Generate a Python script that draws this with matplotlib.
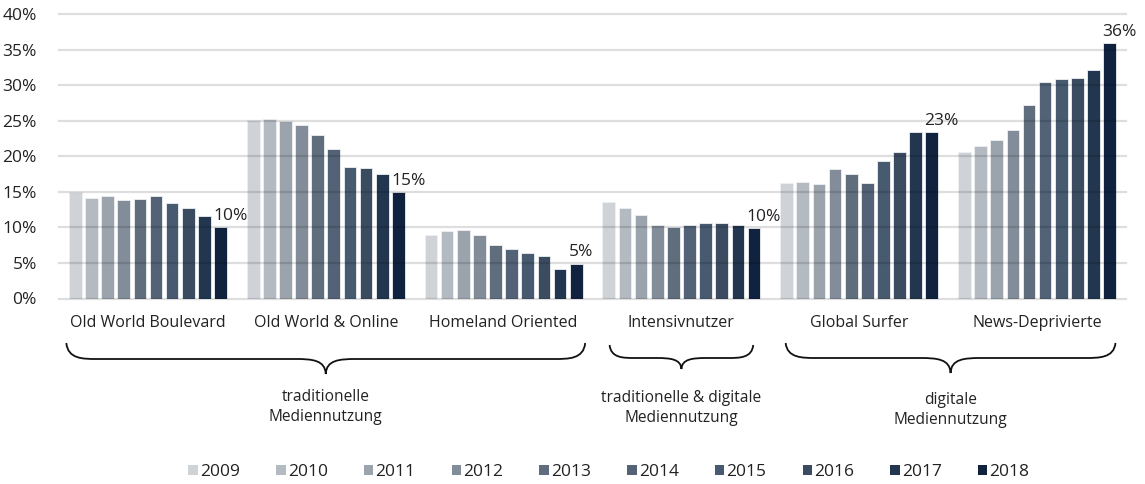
import matplotlib
matplotlib.use("Agg")
import matplotlib.pyplot as plt
from matplotlib.path import Path
from matplotlib.patches import PathPatch, Patch
from matplotlib.transforms import blended_transform_factory
import numpy as np

plt.rcParams['font.family'] = ['Open Sans', 'DejaVu Sans']

categories = ["Old World Boulevard", "Old World & Online", "Homeland Oriented",
              "Intensivnutzer", "Global Surfer", "News-Deprivierte"]
years = ["2009", "2010", "2011", "2012", "2013", "2014", "2015", "2016", "2017", "2018"]
values = {
    "Old World Boulevard": [15.0, 14.2, 14.4, 13.8, 14.0, 14.4, 13.4, 12.7, 11.6, 10.0],
    "Old World & Online":  [25.1, 25.2, 25.0, 24.4, 23.0, 21.0, 18.5, 18.4, 17.5, 15.0],
    "Homeland Oriented":   [8.9, 9.5, 9.7, 8.9, 7.5, 6.9, 6.4, 6.0, 4.2, 4.9],
    "Intensivnutzer":      [13.6, 12.7, 11.8, 10.3, 10.0, 10.3, 10.6, 10.6, 10.3, 9.9],
    "Global Surfer":       [16.2, 16.4, 16.1, 18.2, 17.5, 16.2, 19.4, 20.6, 23.4, 23.4],
    "News-Deprivierte":    [20.6, 21.4, 22.3, 23.7, 27.2, 30.5, 30.9, 31.0, 32.1, 35.9],
}
end_labels = ["10%", "15%", "5%", "10%", "23%", "36%"]
group_names = ["traditionelle\nMediennutzung", "traditionelle & digitale\nMediennutzung",
               "digitale\nMediennutzung"]
group_members = [(0, 2), (3, 3), (4, 5)]

colors = ["#cfd3d8", "#b4bac2", "#9ba3ad", "#838d9a", "#5f6d7c",
          "#536276", "#475a6f", "#3b4c61", "#22364f", "#10223d"]

W, H = 1145, 484
fig = plt.figure(figsize=(W / 100, H / 100), dpi=100)
ax = fig.add_axes([59 / W, 1 - 298.5 / H, (1126 - 59) / W, (298.5 - 14) / H])

pitch = 0.0907
bw = 0.0713
x = np.arange(len(categories))
for j, yr in enumerate(years):
    vals = [values[c][j] for c in categories]
    ax.bar(x + (j - 4.5) * pitch, vals, width=bw, color=colors[j],
           edgecolor="#eef0f2", linewidth=0.6, zorder=2, label=yr)

for i, c in enumerate(categories):
    xl = i + 4.5 * pitch - bw / 2
    ax.text(xl - 0.006, values[c][-1] + 0.45, end_labels[i], ha="left", va="bottom",
            fontsize=12.5, color="#222222", zorder=4)

ax.set_xlim(-0.5, len(categories) - 0.5)
ax.set_ylim(0, 40)
ax.set_yticks(np.arange(0, 41, 5))
ax.set_yticklabels([f"{v}%" for v in range(0, 41, 5)])
ax.yaxis.grid(True, color="#000000", alpha=0.13, linewidth=1.6, zorder=3)
ax.set_axisbelow(False)
for sp in ax.spines.values():
    sp.set_visible(False)
ax.tick_params(axis="y", length=0, pad=16, labelsize=12.5, labelcolor="#222222")
ax.tick_params(axis="x", length=0, pad=12, labelsize=11.5, labelcolor="#222222")
ax.set_xticks(x)
ax.set_xticklabels(categories)
for gl in ax.get_ygridlines():
    gl.set_clip_on(False)

# braces
trans = blended_transform_factory(ax.transData, fig.transFigure)
def fy(py):
    return 1 - py / H

def brace(x0, x1, ytop, ymid, ytip, rx):
    xc = (x0 + x1) / 2
    verts = [
        (x0, fy(ytop)),
        (x0 + rx * 0.05, fy(ymid)), (x0 + rx * 0.55, fy(ymid)), (x0 + rx, fy(ymid)),
        (xc - rx, fy(ymid)),
        (xc - rx * 0.45, fy(ymid)), (xc - rx * 0.02, fy(ymid + 1)), (xc, fy(ytip)),
        (xc + rx * 0.02, fy(ymid + 1)), (xc + rx * 0.45, fy(ymid)), (xc + rx, fy(ymid)),
        (x1 - rx, fy(ymid)),
        (x1 - rx * 0.55, fy(ymid)), (x1 - rx * 0.05, fy(ymid)), (x1, fy(ytop)),
    ]
    codes = [Path.MOVETO, Path.CURVE4, Path.CURVE4, Path.CURVE4, Path.LINETO,
             Path.CURVE4, Path.CURVE4, Path.CURVE4,
             Path.CURVE4, Path.CURVE4, Path.CURVE4, Path.LINETO,
             Path.CURVE4, Path.CURVE4, Path.CURVE4]
    p = PathPatch(Path(verts, codes), transform=trans, facecolor="none",
                  edgecolor="#111111", linewidth=1.3, clip_on=False)
    fig.add_artist(p)
    return xc

span_half = 4.5 * pitch + bw / 2
brace_specs = [
    (group_members[0][0] - span_half - 0.015, group_members[0][1] + span_half + 0.015, 343, 359, 374, 0.17),
    (group_members[1][0] - span_half + 0.04, group_members[1][1] + span_half - 0.04, 345, 358, 369, 0.14),
    (group_members[2][0] - span_half + 0.03, group_members[2][1] + span_half - 0.003, 343, 358, 373, 0.17),
]
text_y = [407, 408, 410]
for (x0, x1, yt, ym, ytp, rx), name, ty in zip(brace_specs, group_names, text_y):
    xc = brace(x0, x1, yt, ym, ytp, rx)
    ax.text(xc, fy(ty), name, transform=trans, ha="center", va="center",
            fontsize=11.2, color="#222222", linespacing=1.27)

handles = [Patch(facecolor=c, edgecolor="none") for c in colors]
fig.legend(handles, years, loc="center", bbox_to_anchor=(609 / W, fy(472)),
           ncol=10, frameon=False, fontsize=12.5, handlelength=0.55, handleheight=0.55,
           handletextpad=0.12, columnspacing=2.08, labelcolor="#222222")

fig.savefig("out.png", dpi=100)
